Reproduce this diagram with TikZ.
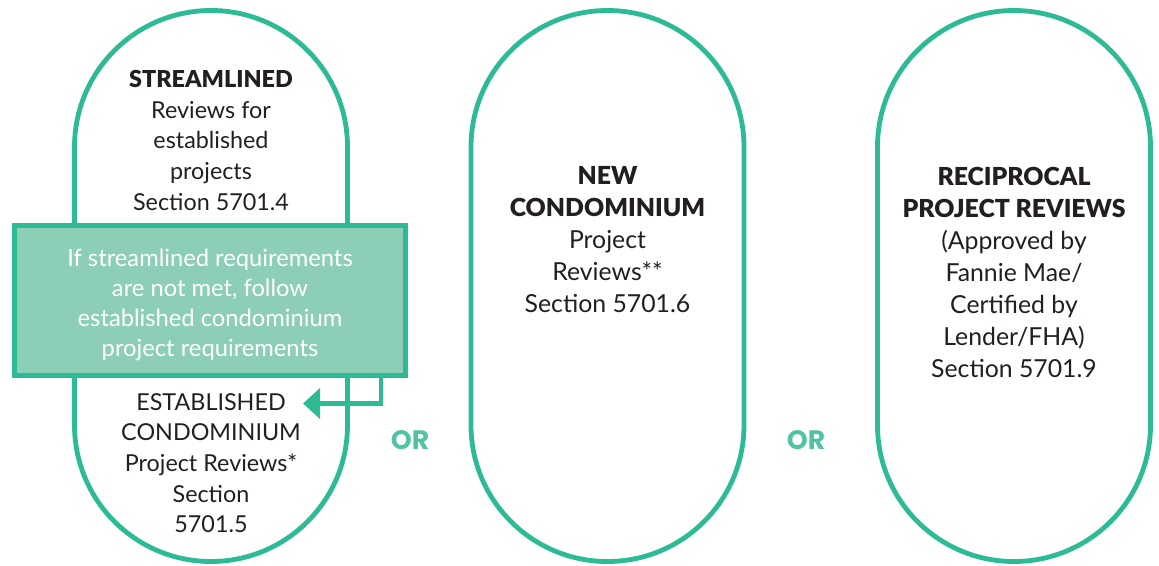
\documentclass[tikz,border=0pt]{standalone}
\usepackage{fontspec}
\setmainfont{Lato}[BoldFont={Lato Black}]
\newfontfamily\orfont{Poppins}
\usetikzlibrary{arrows.meta}
\definecolor{mint}{HTML}{2DBB96}
\definecolor{mintfill}{HTML}{8DCFB6}
\definecolor{orgreen}{HTML}{50C3A5}
\definecolor{ink}{HTML}{231F20}
\tikzset{
  stadium/.style={draw=mint, line width=3.6pt, fill=white,
    rounded corners=102.3pt, minimum width=204.75pt, minimum height=413.25pt,
    inner sep=0pt},
  label/.style={align=center, text=ink, inner sep=0pt,
    font=\fontsize{17.5}{23}\selectfont},
  labelwide/.style={label, font=\fontsize{18.6}{24}\selectfont},
  notebox/.style={draw=mint, line width=3.75pt, fill=mintfill,
    minimum width=293.25pt, minimum height=112.5pt, inner sep=0pt},
  notetext/.style={align=center, text=white, inner sep=0pt,
    font=\fontsize{17.8}{22.7}\selectfont},
  orlabel/.style={text=orgreen, inner sep=0pt,
    font=\orfont\bfseries\fontsize{20}{20}\selectfont},
  flow/.style={draw=mint, line width=3.6pt,
    -{Triangle[length=12.75pt, width=22.5pt]}}
}
\begin{document}
\begin{tikzpicture}[x=0.75pt, y=-0.75pt]
\useasboundingbox (0,0) rectangle (1159,566);

% the three review paths
\node[stadium] (streamlined) at (211,286) {};
\node[stadium] (newcondo) at (607.5,286) {};
\node[stadium] (reciprocal) at (1014,286) {};

% streamlined path, upper half
\node[label] (streamtext) at (211,140.5)
  {\textbf{STREAMLINED}\\Reviews for\\established\\projects\\Section 5701.4};

% fallback note across the first path
\node[notebox] (fallback) at (210,300.5) {};
\node[notetext] (fallbacktext) at (210,305)
  {If streamlined requirements\\are not met, follow\\established condominium\\project requirements};

% established path, lower half
\node[label] (esttext) at (211,463)
  {ESTABLISHED\\CONDOMINIUM\\Project Reviews*\\Section\\5701.5};

% new condominium path
\node[labelwide] (newtext) at (607.5,240)
  {\textbf{NEW}\\\textbf{CONDOMINIUM}\\Project\\Reviews**\\Section 5701.6};

% reciprocal path
\node[labelwide] (rectext) at (1014,272)
  {\textbf{RECIPROCAL}\\\textbf{PROJECT REVIEWS}\\(Approved by\\Fannie Mae/\\Certified by\\Lender/FHA)\\Section 5701.9};

% alternatives
\node[orlabel] (or1) at (410,440) {OR};
\node[orlabel] (or2) at (806,440) {OR};

% arrow from the note down to the established reviews
\coordinate (turn) at (381,403.5);
\coordinate (tip) at (303,403.5);
\draw[flow] (fallback.south -| turn) -- (turn) -- (tip);
\end{tikzpicture}
\end{document}
